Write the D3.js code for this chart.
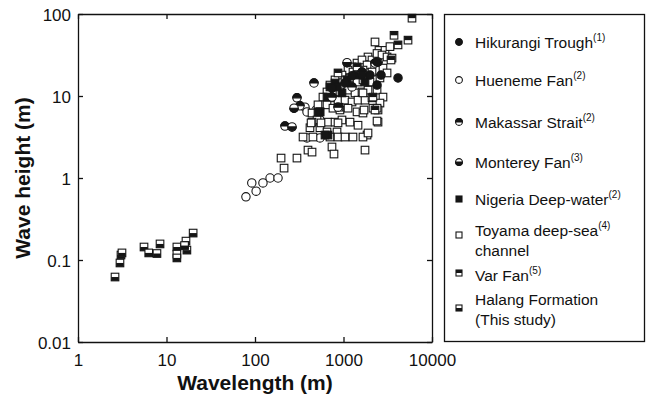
<!DOCTYPE html>
<html>
<head>
<meta charset="utf-8">
<script src="https://cdn.jsdelivr.net/npm/d3@7"></script>
<style>
  body { margin: 0; background: #fff; }
  svg { font-family: "Liberation Sans", Arial, sans-serif; }
  .axis path, .axis line { stroke: #111; stroke-width: 1.3; }
  .axis text { font-size: 17px; fill: #111; }
</style>
</head>
<body>
<div id="chart"></div>
<script>
// [wavelength (m), wave height (m)]
const hikurangi = [[4130,16.6],[2655,18],[2393,13.6],[1618,18],[1248,17.6],[1991,18],[1040,14.4],[741,12.5],[2393,26]];
const hueneme = [[79,0.59],[103,0.69],[92,0.87],[123,0.87],[148,1.0],[182,1.0],
  [367,7.3],[387,6.4],[542,5.1],[387,3.08],[542,3.08],[489,6.75]];
const makassar = [[464,14.4],[298,9.5],[322,7.6],[218,4.3],[741,9.7],[1618,19.6],[1248,12.9],[2270,25.2],[867,7.3]];
const monterey = [[276,7.1],[262,4.2],[1096,25.5],[2455,26]];
const nigeria = [[703,12.9],[802,14.4],[961,10.9],[1096,15.7],[542,6.4],[515,6.4],[668,3.34],[618,3.34],
  [651,9.7],[845,12.9],[1422,18],[1750,14.8]];
const toyama = [[2270,45.6],[2518,36],[2944,36],[3350,40],[1892,29.9],[2099,27.5],[2393,33],[2723,31.6],
  [3105,29.9],[3532,29],[1422,25.2],[1618,27.5],[1845,23.9],[1248,22.6],[1125,20.7],[1280,19.6],
  [1459,19.1],[1660,20.7],[2099,19.6],[2793,21.9],[3105,19.1],[961,18],[1040,15.7],[1184,16.6],
  [1422,14.8],[1660,15.7],[1991,14.8],[2582,16.6],[802,15.7],[703,13.6],[845,12.9],[912,11.2],
  [1125,11.8],[1349,10.9],[1618,11.2],[1892,11.8],[2393,11.8],[2793,9.7],[651,11.2],[586,9.7],
  [741,9.5],[867,8.9],[1040,8.9],[1248,8.45],[1459,8.9],[1750,8.9],[2099,9.5],[2582,8.2],
  [515,7.8],[651,7.8],[760,7.1],[912,6.75],[1125,7.1],[1422,6.4],[1660,6.2],[2153,7.1],
  [2455,6.75],[542,6.4],[441,6.2],[502,5.1],[441,4.8],[668,4.8],[802,4.8],[961,5.1],
  [1184,4.8],[1459,4.4],[2455,4.8],[418,4.1],[542,4.1],[651,3.64],[845,3.64],[349,3.16],
  [452,3.16],[703,3.16],[867,3.16],[1040,3.16],[1280,3.16],[1845,3.34],[1660,3.16],[741,2.39],
  [1750,2.19],[397,2.19],[430,4.7],[557,4.7],[867,4.7],[781,1.96],[441,2.07],[197,1.75],
  [213,1.32],[298,1.75],[2393,7.1],[1706,6.75],[1660,10.9],[1892,3.54],[2393,4.95]];
const varFan = [[5943,89],[5358,48],[3724,55],[4130,42],[3443,27.5],[2270,6.75],[2153,9.7],[889,7.3],[867,19.1],[1422,22.6]];
const halang = [[2.62,0.062],[2.98,0.092],[3.06,0.115],[3.14,0.122],[5.57,0.144],[6.3,0.122],[7.8,0.12],
  [8.45,0.157],[13.1,0.144],[13.1,0.118],[13.1,0.106],[16.6,0.17],[17,0.132],[20,0.213],[16,0.15]];

const xTicks = [1, 10, 100, 1000, 10000];
const yTicks = [0.01, 0.1, 1, 10, 100];

const legendItems = [
  {lines: ["Hikurangi Trough"], sup: "(1)", shape: "circle", fill: "full"},
  {lines: ["Hueneme Fan"], sup: "(2)", shape: "circle", fill: "none"},
  {lines: ["Makassar Strait"], sup: "(2)", shape: "circle", fill: "top"},
  {lines: ["Monterey Fan"], sup: "(3)", shape: "circle", fill: "bottom"},
  {lines: ["Nigeria Deep-water"], sup: "(2)", shape: "square", fill: "full"},
  {lines: ["Toyama deep-sea", "channel"], sup: "(4)", shape: "square", fill: "none"},
  {lines: ["Var Fan"], sup: "(5)", shape: "square", fill: "top"},
  {lines: ["Halang Formation", "(This study)"], sup: "", shape: "square", fill: "bottom"}
];

const W = 649, H = 399;
const svg = d3.select("#chart").append("svg").attr("width", W).attr("height", H);

const x = d3.scaleLog().domain([1, 10000]).range([78, 432]);
const y = d3.scaleLog().domain([0.01, 100]).range([342, 14]);

// draws one marker centred at 0,0
function marker(g, shape, fill, r) {
  const ink = "#151515";
  if (shape === "circle") {
    g.append("circle").attr("r", r).attr("fill", fill === "full" ? ink : "#fff")
      .attr("stroke", ink).attr("stroke-width", 1.1);
    if (fill === "top" || fill === "bottom") {
      const sweep = fill === "top" ? 1 : 0;
      g.append("path").attr("d", `M${-r},0 A${r},${r} 0 0 ${sweep} ${r},0 Z`)
        .attr("fill", ink).attr("stroke", ink).attr("stroke-width", 1.1);
    }
  } else {
    g.append("rect").attr("x", -r).attr("y", -r).attr("width", 2 * r).attr("height", 2 * r)
      .attr("fill", fill === "full" ? ink : "#fff").attr("stroke", ink).attr("stroke-width", 1.1);
    if (fill === "top" || fill === "bottom") {
      g.append("rect").attr("x", -r).attr("y", fill === "top" ? -r : 0)
        .attr("width", 2 * r).attr("height", r).attr("fill", ink);
    }
  }
}

const series = [
  {data: hueneme, shape: "circle", fill: "none"},
  {data: toyama, shape: "square", fill: "none"},
  {data: nigeria, shape: "square", fill: "full"},
  {data: varFan, shape: "square", fill: "top"},
  {data: makassar, shape: "circle", fill: "top"},
  {data: monterey, shape: "circle", fill: "bottom"},
  {data: hikurangi, shape: "circle", fill: "full"},
  {data: halang, shape: "square", fill: "bottom"}
];

const plot = svg.append("g");
series.forEach(s => {
  plot.selectAll(null).data(s.data).enter().append("g")
    .attr("transform", d => `translate(${x(d[0])},${y(d[1])})`)
    .each(function () { marker(d3.select(this), s.shape, s.fill, s.shape === "circle" ? 4.2 : 3.8); });
});

// axes, inward ticks on all four sides
svg.append("g").attr("class", "axis xb").attr("transform", "translate(0,342)")
  .call(d3.axisBottom(x).tickValues(xTicks).tickSizeInner(-5).tickSizeOuter(0).tickPadding(10)
    .tickFormat(d => String(d)));
svg.append("g").attr("class", "axis").attr("transform", "translate(0,14)")
  .call(d3.axisTop(x).tickValues(xTicks).tickSizeInner(-5).tickSizeOuter(0).tickFormat(""));
svg.append("g").attr("class", "axis yl").attr("transform", "translate(78,0)")
  .call(d3.axisLeft(y).tickValues(yTicks).tickSizeInner(-5).tickSizeOuter(0).tickPadding(7)
    .tickFormat(d => String(d)));
svg.append("g").attr("class", "axis").attr("transform", "translate(432,0)")
  .call(d3.axisRight(y).tickValues(yTicks).tickSizeInner(-5).tickSizeOuter(0).tickFormat(""));

svg.selectAll(".yl text").attr("dy", "0.36em");
svg.selectAll(".xb text").attr("dy", "0.85em");

// axis titles
svg.append("text").attr("x", 255).attr("y", 390).attr("text-anchor", "middle")
  .attr("font-weight", "bold").attr("font-size", 21).attr("fill", "#111").text("Wavelength (m)");
svg.append("text").attr("transform", "translate(30,178) rotate(-90)").attr("text-anchor", "middle")
  .attr("font-weight", "bold").attr("font-size", 21).attr("fill", "#111").text("Wave height (m)");

// legend
svg.append("rect").attr("x", 444.5).attr("y", 14.5).attr("width", 200).attr("height", 327)
  .attr("fill", "#fff").attr("stroke", "#111").attr("stroke-width", 1.3);

const rowY = [42, 80, 122, 162, 199, 230, 275, 299];
const markY = [42, 80, 122, 162, 199, 235, 273, 308];
legendItems.forEach((it, i) => {
  const g = svg.append("g");
  marker(g.append("g").attr("transform", `translate(459,${markY[i]})`), it.shape, it.fill, it.shape === "circle" ? 3.4 : 3);
  it.lines.forEach((line, j) => {
    const t = g.append("text").attr("x", 475).attr("y", rowY[i] + 5.5 + j * 20)
      .attr("font-size", 15.5).attr("fill", "#111").text(line);
    if (j === 0 && it.sup) {
      t.append("tspan").attr("font-size", 10).attr("dy", -7).text(it.sup);
    }
  });
});
</script>
</body>
</html>
